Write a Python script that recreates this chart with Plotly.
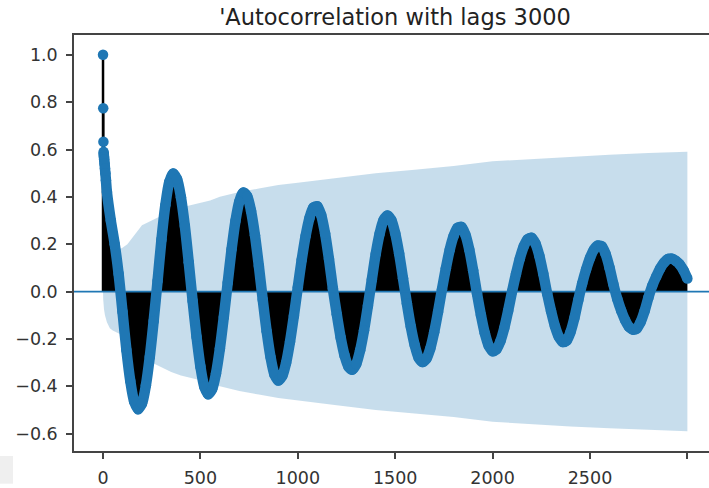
import plotly.graph_objects as go

# Sample autocorrelation of the series (lags 0..3000)
EARLY_LAGS = [0, 1, 2, 3, 4, 5, 6, 8, 10, 12, 15]
EARLY_ACF = [1.0, 0.774, 0.633, 0.59, 0.578, 0.568, 0.558, 0.54, 0.52, 0.50, 0.47]

STEP_LAGS = list(range(20, 3001, 20))
STEP_ACF = [
    0.42, 0.30, 0.20, 0.075, -0.085, -0.247, -0.378, -0.465, -0.497, -0.473,
    -0.396, -0.276, -0.124, 0.045, 0.220, 0.365, 0.463, 0.499, 0.475, 0.398,
    0.277, 0.124, -0.040, -0.191, -0.317, -0.402, -0.434, -0.413, -0.346, -0.241,
    -0.108, 0.037, 0.179, 0.299, 0.381, 0.418, 0.403, 0.340, 0.238, 0.108,
    -0.035, -0.168, -0.277, -0.350, -0.376, -0.357, -0.301, -0.212, -0.102, 0.018,
    0.134, 0.235, 0.311, 0.355, 0.360, 0.323, 0.245, 0.137, 0.013, -0.096,
    -0.194, -0.270, -0.317, -0.330, -0.306, -0.248, -0.164, -0.060, 0.051, 0.159,
    0.244, 0.301, 0.321, 0.302, 0.246, 0.161, 0.056, -0.051, -0.148, -0.226,
    -0.279, -0.298, -0.284, -0.241, -0.172, -0.086, 0.009, 0.098, 0.177, 0.235,
    0.269, 0.273, 0.241, 0.178, 0.090, -0.009, -0.099, -0.176, -0.229, -0.252,
    -0.244, -0.210, -0.154, -0.081, 0.000, 0.074, 0.140, 0.191, 0.221, 0.227,
    0.203, 0.151, 0.076, -0.008, -0.082, -0.146, -0.191, -0.213, -0.207, -0.171,
    -0.112, -0.036, 0.034, 0.093, 0.142, 0.177, 0.194, 0.191, 0.159, 0.102,
    0.031, -0.031, -0.080, -0.120, -0.149, -0.161, -0.156, -0.129, -0.083, -0.025,
    0.025, 0.063, 0.097, 0.122, 0.137, 0.139, 0.130, 0.115, 0.090, 0.055,
]

# Half-width of the 95% confidence band (Bartlett) at selected lags
BAND_LAGS = [0, 1, 5, 10, 20, 35, 50, 75, 100, 125, 150, 175, 200, 250, 300,
             350, 400, 450, 500, 550, 600, 700, 800, 900, 1000, 1200, 1400,
             1600, 1800, 2000, 2200, 2400, 2600, 2800, 3000]
BAND_HALF = [0.0, 0.034, 0.075, 0.10, 0.13, 0.155, 0.165, 0.175, 0.185, 0.20,
             0.225, 0.255, 0.28, 0.30, 0.32, 0.34, 0.355, 0.365, 0.375, 0.385,
             0.40, 0.42, 0.435, 0.45, 0.46, 0.48, 0.50, 0.515, 0.53, 0.55,
             0.56, 0.57, 0.578, 0.585, 0.59]

X_TICKS = [0, 500, 1000, 1500, 2000, 2500, 3000]
Y_TICKS = [-0.6, -0.4, -0.2, 0.0, 0.2, 0.4, 0.6, 0.8, 1.0]
Y_LABELS = ["\u22120.6", "\u22120.4", "\u22120.2", "0.0", "0.2", "0.4", "0.6", "0.8", "1.0"]

TITLE = "'Autocorrelation with lags 3000"

C0 = "#1f77b4"
FONT = "DejaVu Sans"
MARKER_PX = 10.5

lags = EARLY_LAGS + STEP_LAGS
acf = EARLY_ACF + STEP_ACF
assert len(STEP_LAGS) == len(STEP_ACF)

# from lag 3 on the points sit so close together that they merge
dense_lags = lags[3:]
dense_acf = acf[3:]


def stems(xs, ys):
    sx, sy = [], []
    for x, y in zip(xs, ys):
        sx += [x, x, None]
        sy += [0, y, None]
    return sx, sy


fig = go.Figure()

# confidence band
band_x = BAND_LAGS + BAND_LAGS[::-1]
band_y = BAND_HALF + [-h for h in BAND_HALF[::-1]]
fig.add_trace(go.Scatter(x=band_x, y=band_y, mode="lines", fill="toself",
                         fillcolor="rgba(31,119,180,0.25)",
                         line=dict(width=0, color="rgba(0,0,0,0)"),
                         hoverinfo="skip", showlegend=False))

# stems: solid area where they are packed, separate lines for the first lags
fig.add_trace(go.Scatter(x=dense_lags, y=dense_acf, mode="lines",
                         fill="tozeroy", fillcolor="black",
                         line=dict(width=0, color="black", shape="spline",
                                   smoothing=0.8),
                         hoverinfo="skip", showlegend=False))
ex, ey = stems(EARLY_LAGS, EARLY_ACF)
fig.add_trace(go.Scatter(x=ex, y=ey, mode="lines",
                         line=dict(color="black", width=2.5),
                         hoverinfo="skip", showlegend=False))

# autocorrelation markers (the packed ones form a continuous thick trail)
fig.add_trace(go.Scatter(x=dense_lags, y=dense_acf, mode="lines",
                         line=dict(color=C0, width=MARKER_PX, shape="spline",
                                   smoothing=0.8),
                         hoverinfo="skip", showlegend=False))
fig.add_trace(go.Scatter(x=lags, y=acf, mode="markers",
                         marker=dict(color=C0, size=MARKER_PX, line=dict(width=0)),
                         showlegend=False))

axis_font = dict(family=FONT, size=17.5, color="#333333")

fig.update_layout(
    width=709, height=488,
    margin=dict(l=74, r=0, t=35, b=33),
    paper_bgcolor="white", plot_bgcolor="white",
    title=dict(text=TITLE, x=(395 - 74) / 635, xref="paper", xanchor="center",
               y=1 - 17 / 488, yref="container", yanchor="middle",
               font=dict(family=FONT, size=22.5, color="#222222")),
    xaxis=dict(range=[-149, 3111], tickvals=X_TICKS,
               ticktext=[str(v) for v in X_TICKS],
               showgrid=False, zeroline=False,
               showline=True, linecolor="#444444", linewidth=1.5, mirror=True,
               ticks="outside", ticklen=6, tickwidth=1.5, tickcolor="#444444",
               tickfont=axis_font, ticklabelstandoff=4),
    yaxis=dict(range=[-0.6736, 1.0837], tickvals=Y_TICKS, ticktext=Y_LABELS,
               showgrid=False, zeroline=False,
               showline=True, linecolor="#444444", linewidth=1.5,
               ticks="outside", ticklen=6, tickwidth=1.5, tickcolor="#444444",
               tickfont=axis_font, ticklabelstandoff=5),
    shapes=[
        # horizontal reference line at zero
        dict(type="line", xref="paper", yref="y", x0=0, x1=1, y0=0, y1=0,
             line=dict(color=C0, width=1.8), layer="above"),
        # light grey panel corner at the bottom left
        dict(type="rect", xref="paper", yref="paper",
             x0=-74 / 635, x1=(13 - 74) / 635, y0=-33 / 420, y1=-5 / 420,
             fillcolor="#efefef", line=dict(width=0), layer="below"),
    ],
)

fig.write_html("out.html")
